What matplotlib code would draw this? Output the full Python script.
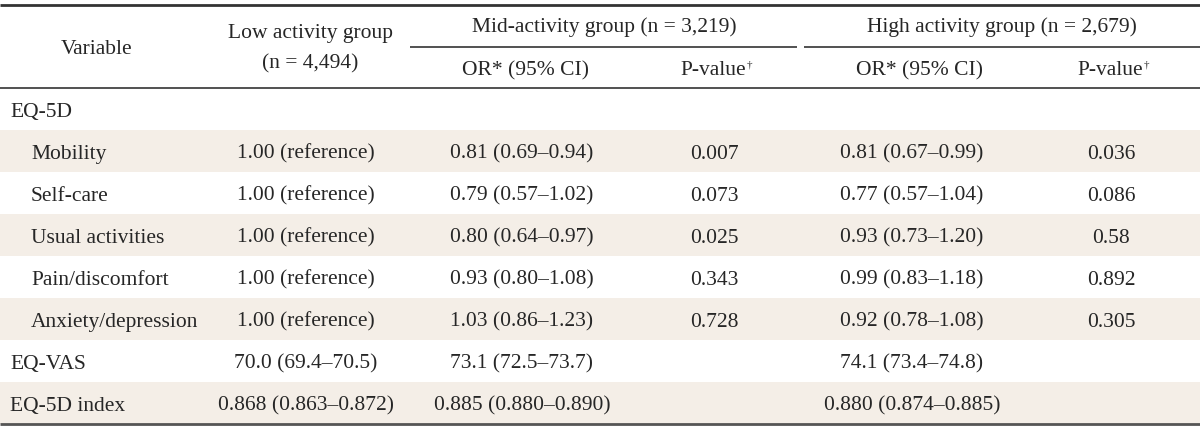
import matplotlib
matplotlib.use("Agg")
import matplotlib.pyplot as plt
from matplotlib.patches import Rectangle

# ---- data ----
variables = ["EQ-5D", "Mobility", "Self-care", "Usual activities", "Pain/discomfort",
             "Anxiety/depression", "EQ-VAS", "EQ-5D index"]
indented = [False, True, True, True, True, True, False, False]
low_values = ["", "1.00 (reference)", "1.00 (reference)", "1.00 (reference)", "1.00 (reference)",
              "1.00 (reference)", "70.0 (69.4\u201370.5)", "0.868 (0.863\u20130.872)"]
mid_or = ["", "0.81 (0.69\u20130.94)", "0.79 (0.57\u20131.02)", "0.80 (0.64\u20130.97)",
          "0.93 (0.80\u20131.08)", "1.03 (0.86\u20131.23)", "73.1 (72.5\u201373.7)",
          "0.885 (0.880\u20130.890)"]
mid_p = ["", "0.007", "0.073", "0.025", "0.343", "0.728", "", ""]
high_or = ["", "0.81 (0.67\u20130.99)", "0.77 (0.57\u20131.04)", "0.93 (0.73\u20131.20)",
           "0.99 (0.83\u20131.18)", "0.92 (0.78\u20131.08)", "74.1 (73.4\u201374.8)",
           "0.880 (0.874\u20130.885)"]
high_p = ["", "0.036", "0.086", "0.58", "0.892", "0.305", "", ""]
shaded = [False, True, False, True, False, True, False, True]

header_variable = "Variable"
header_low = ["Low activity group", "(n = 4,494)"]
header_mid = "Mid-activity group (n = 3,219)"
header_high = "High activity group (n = 2,679)"
sub_or = "OR* (95% CI)"
sub_p = "P-value"

# ---- layout ----
W, H = 1200, 428
fig = plt.figure(figsize=(W / 100, H / 100), dpi=100)
ax = fig.add_axes([0, 0, 1, 1])
ax.set_xlim(0, W)
ax.set_ylim(H, 0)
ax.axis("off")

font = "Liberation Serif"
fs = 15.5
tc = "#262626"
shade_col = "#f4eee7"
line_col = "#333333"

top_y = 4.5
head_bot = 88
bot_y = 423.5
row_h = (bot_y - head_bot) / len(variables)
base_off = 8.0

x_var = 10
x_ind = 31
x_low = 306
x_mid_or = 522
x_mid_p = 714
x_high_or = 912
x_high_p = 1111

# row shading
for i, s in enumerate(shaded):
    if s:
        ax.add_patch(Rectangle((0, head_bot + i * row_h), W, row_h,
                               facecolor=shade_col, edgecolor="none", zorder=0))

# rules
ax.plot([0, W], [top_y, top_y], color=line_col, lw=2.0, solid_capstyle="butt")
ax.plot([0, W], [head_bot, head_bot], color=line_col, lw=1.2, solid_capstyle="butt")
ax.plot([0, W], [bot_y, bot_y], color="#555555", lw=2.0, solid_capstyle="butt")
ax.plot([410, 797], [46.5, 46.5], color=line_col, lw=1.2, solid_capstyle="butt")
ax.plot([804, W], [46.5, 46.5], color=line_col, lw=1.2, solid_capstyle="butt")

kw = dict(fontfamily=font, fontsize=fs, color=tc, va="baseline")

# header
ax.text(97, 54, header_variable, ha="center", **kw)
ax.text(x_low + 4, 38, header_low[0], ha="center", **kw)
ax.text(x_low + 4, 68, header_low[1], ha="center", **kw)
ax.text(604, 32, header_mid, ha="center", **kw)
ax.text(1002, 32, header_high, ha="center", **kw)
ax.text(525, 75, sub_or, ha="center", **kw)
ax.text(919, 75, sub_or, ha="center", **kw)
for xc in (716, 1113):
    t = ax.text(xc - 3, 75, sub_p, ha="center", **kw)
    fig.canvas.draw()
    bb = t.get_window_extent()
    ax.text(bb.x1 + 1, 67, "\u2020", ha="left", va="baseline",
            fontfamily=font, fontsize=8, color=tc)

# body
for i, v in enumerate(variables):
    yb = head_bot + (i + 0.5) * row_h + base_off
    ax.text(x_ind if indented[i] else x_var, yb, v, ha="left", **kw)
    ax.text(x_low, yb, low_values[i], ha="center", **kw)
    ax.text(x_mid_or, yb, mid_or[i], ha="center", **kw)
    ax.text(x_mid_p, yb, mid_p[i], ha="center", **kw)
    ax.text(x_high_or, yb, high_or[i], ha="center", **kw)
    ax.text(x_high_p, yb, high_p[i], ha="center", **kw)

fig.savefig("out.png", dpi=100)
